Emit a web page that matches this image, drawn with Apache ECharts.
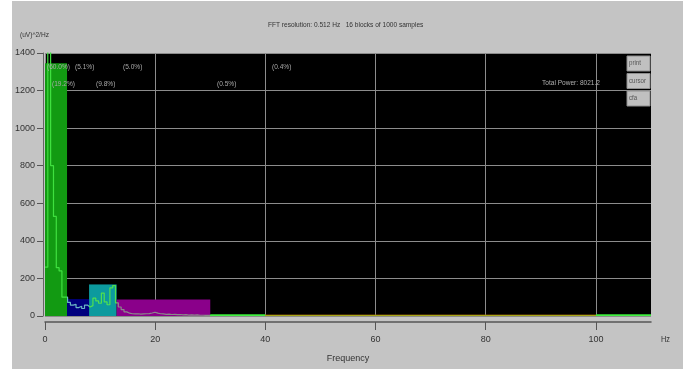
<!DOCTYPE html>
<html>
<head>
<meta charset="utf-8">
<script src="https://cdn.jsdelivr.net/npm/echarts@6/dist/echarts.min.js"></script>
<style>
  html, body { margin: 0; padding: 0; background: #ffffff; }
  #panel { position: absolute; left: 12px; top: 1px; width: 671px; height: 368px; background: #c4c4c4; }
  #chart { position: absolute; left: 0; top: 0; width: 691px; height: 369px; }
</style>
</head>
<body>
<div id="panel"></div>
<div id="chart"></div>
<script>
// Spectrum bins (Hz) and power density ((uV)^2/Hz), 0.512 Hz resolution
const specFreq = [
  0.00, 0.51, 1.02, 1.54, 2.05, 2.56, 3.07, 3.58, 4.10, 4.61,
  5.12, 5.63, 6.14, 6.66, 7.17, 7.68, 8.19, 8.70, 9.22, 9.73,
  10.24, 10.75, 11.26, 11.78, 12.29, 12.80, 13.31, 13.82, 14.34, 14.85,
  15.36, 15.87, 16.38, 16.90, 17.41, 17.92, 18.43, 18.94, 19.46, 19.97,
  20.48, 20.99, 21.50, 22.02, 22.53, 23.04, 23.55, 24.06, 24.58, 25.09,
  25.60, 26.11, 26.62, 27.14, 27.65, 28.16, 28.67, 29.18, 29.70, 30.21,
  40.00, 60.00, 80.00, 100.00, 110.00
];
const specPower = [
  260, 1900, 800, 530, 257, 240, 100, 100, 72, 58,
  62, 45, 52, 40, 58, 48, 55, 95, 80, 68,
  122, 75, 60, 150, 162, 70, 48, 34, 22, 15,
  12, 11, 12, 10, 11, 12, 13, 16, 20, 15,
  12, 11, 9, 10, 8, 9, 7, 8, 6, 7,
  5, 6, 5, 6, 4, 4, 3, 3, 3, 3,
  3, 3, 3, 3, 3
];

// Frequency bands: start, end, mean power
const bandStart = [0, 4, 8, 13, 30, 40, 100];
const bandEnd = [4, 8, 13, 30, 40, 100, 110];
const bandPower = [1345, 90, 168, 88, 9, 7, 9];
const bandColors = ['#129a12', '#00007e', '#0c9a9e', '#8a008a', '#2fd02f', '#7a0000', '#2fd02f'];

// Band share labels
const shareText = ['(60.0%)', '(5.1%)', '(5.0%)', '(0.4%)', '(19.2%)', '(9.8%)', '(0.5%)'];
const shareLeft = [47, 75, 123, 272, 52, 96, 217];
const shareRow = [0, 0, 0, 0, 1, 1, 1];

const yTicks = [0, 200, 400, 600, 800, 1000, 1200, 1400];
const xTicks = [0, 20, 40, 60, 80, 100];
const buttons = ['print', 'cursor', 'cfa'];

const FONT = '"Liberation Sans Narrow", "Liberation Sans", sans-serif';
const NARROW = 0.82;

const bandData = bandStart.map((s, i) => [s, bandEnd[i], bandPower[i]]);
const lineData = specFreq.map((f, i) => [f, specPower[i]]);

function narrowText(x, y, text, fill, size, z) {
  return {
    type: 'text', x: x, y: y, scaleX: NARROW, z: z || 10,
    style: { text: text, fill: fill, font: size + 'px ' + FONT }
  };
}

const graphics = [];
shareText.forEach((t, i) => {
  graphics.push(narrowText(shareLeft[i], shareRow[i] ? 80 : 63, t, '#a9a9a9', 8));
});
graphics.push(narrowText(542, 79, 'Total Power: 8021.2', '#b0b0b0', 8));
buttons.forEach((b, i) => {
  const top = 56 + i * 17.5;
  graphics.push({
    type: 'rect', x: 627, y: top, z: 10,
    shape: { width: 23, height: 15 },
    style: { fill: '#c0c0c0', stroke: '#8e8e8e', lineWidth: 1 }
  });
  graphics.push(narrowText(629, top + 3, b, '#555', 7.5, 11));
});
graphics.push(narrowText(268, 21, 'FFT resolution: 0.512 Hz   16 blocks of 1000 samples', '#333', 8));
graphics.push(narrowText(20, 31, '(uV)^2/Hz', '#333', 8));
graphics.push(narrowText(661, 335, 'Hz', '#333', 9));

const chart = echarts.init(document.getElementById('chart'), null, { renderer: 'canvas' });
chart.setOption({
  backgroundColor: 'transparent',
  animation: false,
  grid: {
    left: 45, right: 40, top: 53, bottom: 53,
    show: true, backgroundColor: '#000000', borderWidth: 0
  },
  xAxis: {
    type: 'value', min: 0, max: 110, interval: 20,
    offset: 6,
    name: 'Frequency', nameLocation: 'middle', nameGap: 32,
    nameTextStyle: { color: '#333', fontSize: 9, fontFamily: FONT },
    axisLine: { show: true, onZero: false, lineStyle: { color: '#555', width: 1.5 } },
    axisTick: { show: true, length: 8, customValues: xTicks, lineStyle: { color: '#555' } },
    axisLabel: { customValues: xTicks, margin: 13, color: '#333', fontSize: 9, fontFamily: FONT },
    splitLine: { show: true, lineStyle: { color: '#8c8c8c', width: 1 } }
  },
  yAxis: {
    type: 'value', min: 0, max: 1400, interval: 200,
    offset: 2,
    axisLine: { show: true, onZero: false, lineStyle: { color: '#666', width: 1 } },
    axisTick: { show: true, length: 6, customValues: yTicks, lineStyle: { color: '#555' } },
    axisLabel: {
      customValues: yTicks, margin: 8, color: '#333', fontSize: 9, fontFamily: FONT,
      formatter: function (v) { return String(v); }
    },
    splitLine: { show: true, lineStyle: { color: '#8c8c8c', width: 1 } }
  },
  visualMap: {
    type: 'piecewise', show: false, dimension: 0, seriesIndex: 1,
    pieces: [
      { gte: 0, lt: 4, color: '#3fe03f' },
      { gte: 4, lt: 8, color: '#6ab6c4' },
      { gte: 8, lt: 13, color: '#4fe04f' },
      { gte: 13, lt: 30, color: '#8a8a8a' },
      { gte: 30, lt: 40, color: '#44ee44' },
      { gte: 40, lt: 100, color: '#a8a818' },
      { gte: 100, lte: 110, color: '#44ee44' }
    ]
  },
  series: [
    {
      type: 'custom', z: 2, clip: true,
      encode: { x: [0, 1], y: 2 },
      data: bandData,
      renderItem: function (params, api) {
        const p0 = api.coord([api.value(0), api.value(2)]);
        const p1 = api.coord([api.value(1), 0]);
        return {
          type: 'rect',
          shape: { x: p0[0], y: p0[1], width: p1[0] - p0[0], height: p1[1] - p0[1] },
          style: { fill: bandColors[params.dataIndex] }
        };
      }
    },
    {
      type: 'line', z: 3, step: 'end', symbol: 'none', clip: true,
      data: lineData,
      lineStyle: { width: 1.2 }
    }
  ],
  graphic: graphics
});
</script>
</body>
</html>
